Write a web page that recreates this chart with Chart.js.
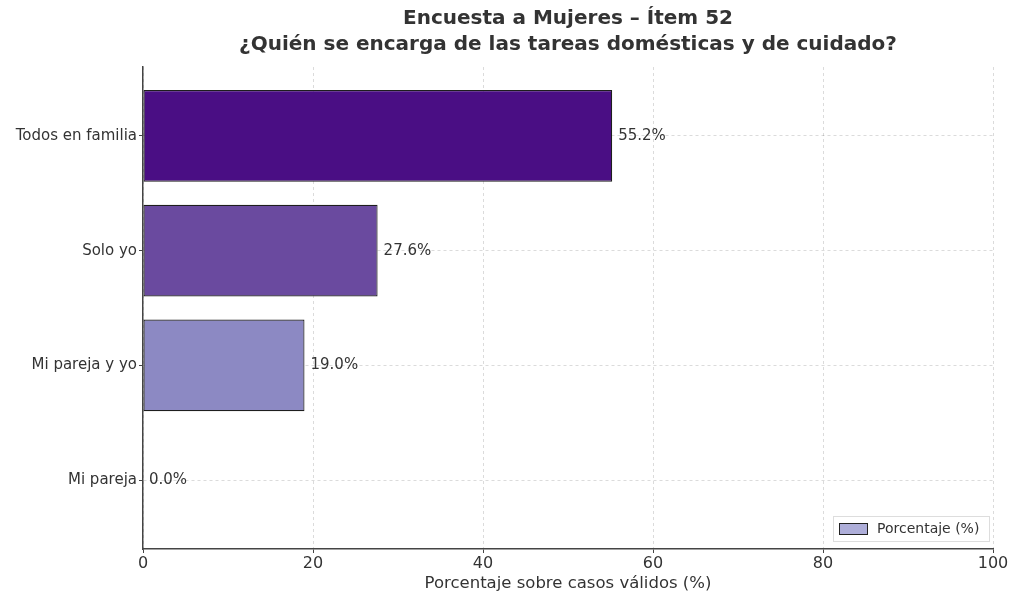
<!DOCTYPE html>
<html>
<head>
<meta charset="utf-8">
<script src="https://cdn.jsdelivr.net/npm/chart.js@4/dist/chart.umd.min.js"></script>
<style>
    html, body { margin: 0; padding: 0; background: #fff; }
    #chartBox { width: 1012px; height: 594px; }
</style>
</head>
<body>
<div id="chartBox"><canvas id="barChart" width="1012" height="594"></canvas></div>
<script>
// datos
var categorias = ["Todos en familia", "Solo yo", "Mi pareja y yo", "Mi pareja"];
var porcentajes = [55.2, 27.6, 19.0, 0.0];
var coloresBarra = ["#4a0e84", "#6a4a9f", "#8c89c3", "#b7b8dd"];
var ticksX = [0, 20, 40, 60, 80, 100];
var titulo = ["Encuesta a Mujeres \u2013 \u00cdtem 52", "\u00bfQui\u00e9n se encarga de las tareas dom\u00e9sticas y de cuidado?"];
var tituloEjeX = "Porcentaje sobre casos v\u00e1lidos (%)";
var etiquetaLeyenda = "Porcentaje (%)";

var fuente = "'DejaVu Sans', sans-serif";

var puntos = porcentajes.map(function (v, i) { return { x: v, y: i }; });

var tituloPlugin = {
    id: "tituloPlugin",
    afterDraw: function (chart) {
        var ctx = chart.ctx;
        var area = chart.chartArea;
        var cx = (area.left + area.right) / 2;
        ctx.save();
        ctx.fillStyle = "#333";
        ctx.font = "bold 20px " + fuente;
        ctx.textAlign = "center";
        ctx.textBaseline = "middle";
        ctx.fillText(titulo[0], cx, 19);
        ctx.fillText(titulo[1], cx, 45);
        ctx.restore();
    }
};

var etiquetasPlugin = {
    id: "etiquetasPlugin",
    afterDraw: function (chart) {
        var ctx = chart.ctx;
        var meta = chart.getDatasetMeta(0);
        ctx.save();
        ctx.fillStyle = "#333";
        ctx.font = "15px " + fuente;
        ctx.textAlign = "left";
        ctx.textBaseline = "middle";
        meta.data.forEach(function (bar, i) {
            ctx.fillText(porcentajes[i].toFixed(1) + "%", bar.x + 6, bar.y);
        });
        ctx.restore();
    }
};

var leyendaPlugin = {
    id: "leyendaPlugin",
    afterDraw: function (chart) {
        var ctx = chart.ctx;
        var area = chart.chartArea;
        var w = 156, h = 25;
        var x = area.right - 4 - w;
        var y = area.bottom - 8 - h;
        ctx.save();
        ctx.fillStyle = "rgba(255,255,255,0.85)";
        ctx.strokeStyle = "#ddd";
        ctx.lineWidth = 1;
        ctx.fillRect(x, y, w, h);
        ctx.strokeRect(x + 0.5, y + 0.5, w, h);
        ctx.fillStyle = "#aeaed9";
        ctx.strokeStyle = "#222";
        ctx.fillRect(x + 6, y + 7, 28, 11);
        ctx.strokeRect(x + 6.5, y + 7.5, 28, 11);
        ctx.fillStyle = "#333";
        ctx.font = "14px " + fuente;
        ctx.textBaseline = "middle";
        ctx.fillText(etiquetaLeyenda, x + 44, y + h / 2 + 1);
        ctx.restore();
    }
};

var ctx = document.getElementById("barChart").getContext("2d");
new Chart(ctx, {
    type: "bar",
    data: {
        datasets: [{
            label: etiquetaLeyenda,
            data: puntos,
            backgroundColor: coloresBarra,
            borderColor: "#1e1e1e",
            borderWidth: 1.2,
            borderSkipped: false,
            barPercentage: 0.8,
            categoryPercentage: 1.0
        }]
    },
    options: {
        indexAxis: "y",
        responsive: false,
        animation: false,
        layout: { padding: { top: 67, right: 19, left: 0, bottom: 0 } },
        plugins: {
            legend: { display: false },
            title: { display: false },
            tooltip: { enabled: false }
        },
        scales: {
            x: {
                type: "linear",
                min: 0,
                max: 100,
                offset: false,
                z: 1,
                afterBuildTicks: function (scale) {
                    scale.ticks = ticksX.map(function (v) { return { value: v }; });
                },
                afterFit: function (scale) { scale.height = 45; },
                grid: { color: "rgba(0,0,0,0.14)", tickLength: 4, tickColor: "#444" },
                border: { display: true, color: "#444", width: 1.5, dash: [3, 3] },
                ticks: { color: "#333", font: { family: fuente, size: 16 }, padding: 1 },
                title: {
                    display: true,
                    text: tituloEjeX,
                    color: "#333",
                    font: { family: fuente, size: 16.5 },
                    padding: { top: 0, bottom: 0 }
                }
            },
            y: {
                type: "linear",
                min: -0.6,
                max: 3.6,
                reverse: true,
                offset: false,
                z: 1,
                afterBuildTicks: function (scale) {
                    scale.ticks = categorias.map(function (c, i) { return { value: i }; });
                },
                afterFit: function (scale) { scale.width = 143; },
                grid: { offset: false, color: "rgba(0,0,0,0.14)", tickLength: 4, tickColor: "#444" },
                border: { display: true, color: "#444", width: 1.5, dash: [3, 3] },
                ticks: {
                    color: "#333",
                    font: { family: fuente, size: 15 },
                    padding: 2,
                    callback: function (v) { return categorias[v]; }
                }
            }
        }
    },
    plugins: [tituloPlugin, etiquetasPlugin, leyendaPlugin]
});
</script>
</body>
</html>
